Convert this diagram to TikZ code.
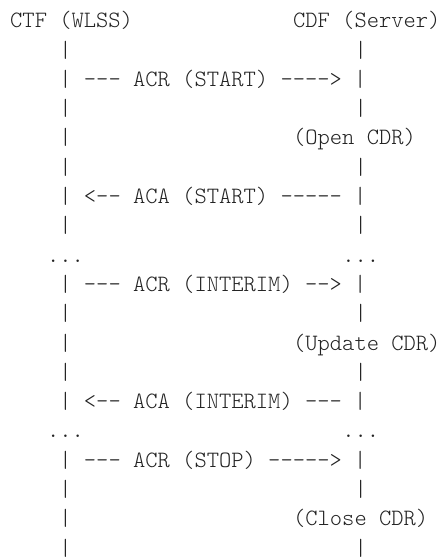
\documentclass[tikz,border=0pt]{standalone}
\usepackage{fontspec}
\setmonofont{lmmonolt10-regular.otf}
\usepackage{tikz}

\begin{document}
\begin{tikzpicture}[x = 12.3pt, y = -29.3pt,
        txt/.style = {anchor = base west, inner sep = 0pt, textColor,
                      font = \ttfamily\fontsize{23.4}{29.3}\selectfont}]
            % \draw [help lines, step = 1] (0,0) grid (35,18);

            \definecolor{textColor}{RGB}{34,34,34};
            \useasboundingbox (-10pt,27.7pt) rectangle (431pt,-530.3pt);

            % header
            \node [txt] (ctf) at (0,0) {CTF (WLSS)};
            \node [txt] (cdf) at (23,0) {CDF (Server)};

            % start
            \node [txt] (l1) at (4,1) {|};
            \node [txt] (r1) at (28,1) {|};
            \node [txt] (acrStart) at (4,2) {| --- ACR (START) ----> |};
            \node [txt] (l3) at (4,3) {|};
            \node [txt] (r3) at (28,3) {|};
            \node [txt] (l4) at (4,4) {|};
            \node [txt] (openCdr) at (23,4) {(Open CDR)};
            \node [txt] (l5) at (4,5) {|};
            \node [txt] (r5) at (28,5) {|};
            \node [txt] (acaStart) at (4,6) {| <-- ACA (START) ----- |};
            \node [txt] (l7) at (4,7) {|};
            \node [txt] (r7) at (28,7) {|};
            \node [txt] (dotsL8) at (3,8) {...};
            \node [txt] (dotsR8) at (27,8) {...};

            % interim
            \node [txt] (acrInterim) at (4,9) {| --- ACR (INTERIM) --> |};
            \node [txt] (l10) at (4,10) {|};
            \node [txt] (r10) at (28,10) {|};
            \node [txt] (l11) at (4,11) {|};
            \node [txt] (updateCdr) at (23,11) {(Update CDR)};
            \node [txt] (l12) at (4,12) {|};
            \node [txt] (r12) at (28,12) {|};
            \node [txt] (acaInterim) at (4,13) {| <-- ACA (INTERIM) --- |};
            \node [txt] (dotsL14) at (3,14) {...};
            \node [txt] (dotsR14) at (27,14) {...};

            % stop
            \node [txt] (acrStop) at (4,15) {| --- ACR (STOP) -----> |};
            \node [txt] (l16) at (4,16) {|};
            \node [txt] (r16) at (28,16) {|};
            \node [txt] (l17) at (4,17) {|};
            \node [txt] (closeCdr) at (23,17) {(Close CDR)};
            \node [txt] (l18) at (4,18) {|};
            \node [txt] (r18) at (28,18) {|};

        \end{tikzpicture}
\end{document}
